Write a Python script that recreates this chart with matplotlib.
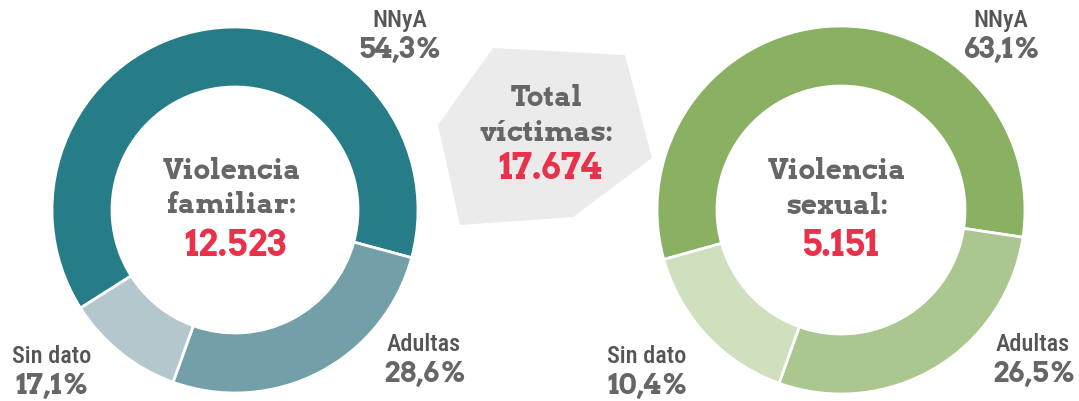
import matplotlib
matplotlib.use("Agg")
import matplotlib.pyplot as plt
from matplotlib import font_manager as fm
from matplotlib.patches import Polygon

# data
categories=["NNyA","Adultas","Sin dato"]
fam_pct_labels=["54,3%","28,6%","17,1%"]
sex_pct_labels=["63,1%","26,5%","10,4%"]
# wedge shares as drawn in the picture
fam_wedges=[63.2,26.3,10.5]
sex_wedges=[56.7,28.1,15.2]
fam_total="12.523"
sex_total="5.151"
all_total="17.674"

installed={f.name for f in fm.fontManager.ttflist}
def pick(*names):
    for n in names:
        if n in installed:
            return n
    return "DejaVu Sans"

slab=pick("Roboto Slab","Arvo","Bitter","Aleo","DejaVu Serif")
cond=pick("Roboto Condensed","Fira Sans Condensed","Liberation Sans Narrow","DejaVu Sans")

W,H=1079,401
fig=plt.figure(figsize=(W/100,H/100),dpi=100,facecolor="white")
ax=fig.add_axes([0,0,1,1])
Y=lambda y:H-y

gray="#666666"
red="#e8314b"
teal=["#267d87","#73a0a8","#b3c7cd"]
green=["#8ab062","#abc78f","#d0e0bf"]

ax.add_patch(Polygon([(493,Y(48)),(625,Y(55)),(652,Y(158)),(573,Y(217)),(460,Y(225)),(438,Y(125))],closed=True,facecolor="#ebebeb",edgecolor="none"))

r_out,ring=183,60
ax.pie(fam_wedges,colors=teal,startangle=212.4,counterclock=False,center=(235,Y(210)),radius=r_out,
       wedgeprops=dict(width=ring,edgecolor="white",linewidth=2))
ax.pie(sex_wedges,colors=green,startangle=195.6,counterclock=False,center=(841,Y(210)),radius=r_out+1,
       wedgeprops=dict(width=ring,edgecolor="white",linewidth=2))

def center_text(x,lines,num,ys):
    for t,y in zip(lines,ys[:2]):
        ax.text(x,Y(y),t,ha="center",va="baseline",fontsize=20,fontweight="bold",family=slab,color=gray)
    ax.text(x+3,Y(ys[2]),num,ha="center",va="baseline",fontsize=25,fontweight="bold",family=slab,color=red)

center_text(232,["Violencia","familiar:"],fam_total,[179,213,256])
center_text(837,["Violencia","sexual:"],sex_total,[179,214,256])
center_text(547,["Total","víctimas:"],all_total,[106,141,179])

def label(x,y,name,pct):
    ax.text(x,Y(y),name,ha="center",va="baseline",fontsize=17.5,family=cond,fontweight="medium",color="#555555")
    ax.text(x,Y(y+31),pct,ha="center",va="baseline",fontsize=20.5,fontweight="bold",family=slab,color=gray)

fam_pos=[(400,27),(424,351),(52,363)]
sex_pos=[(1001,27),(1033,351),(647,363)]
for (x,y),name,pct in zip(fam_pos,categories,fam_pct_labels):
    label(x,y,name,pct)
for (x,y),name,pct in zip(sex_pos,categories,sex_pct_labels):
    label(x,y,name,pct)

ax.set_xlim(0,W)
ax.set_ylim(0,H)
ax.set_aspect("auto")
ax.axis("off")
fig.savefig("out.png",dpi=100,facecolor="white")
